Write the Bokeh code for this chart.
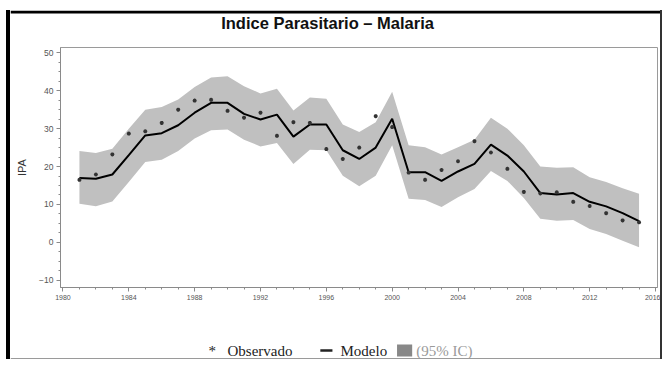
from bokeh.plotting import figure
from bokeh.layouts import column
from bokeh.models import Range1d, FixedTicker
from bokeh.core.properties import value
from bokeh.embed import file_html
from bokeh.resources import INLINE

# Annual malaria parasite index (IPA), observed values, model fit and 95% interval
years = list(range(1981, 2016))
observado = [16.5, 17.9, 23.2, 28.7, 29.3, 31.5, 35.0, 37.4, 37.6, 34.7,
             32.9, 34.2, 28.1, 31.7, 31.5, 24.6, 22.0, 25.0, 33.3, 30.4,
             18.4, 16.5, 19.1, 21.4, 26.7, 23.7, 19.4, 13.3, 12.9, 13.2,
             10.7, 9.6, 7.7, 5.8, 5.3]
modelo = [17.0, 16.8, 17.9, 23.0, 28.2, 28.8, 30.9, 34.2, 36.8, 36.8,
          33.9, 32.4, 33.7, 27.9, 31.1, 31.1, 24.3, 22.0, 25.0, 32.6,
          18.5, 18.5, 16.2, 18.7, 20.7, 25.8, 22.9, 18.7, 13.0, 12.6,
          13.0, 10.7, 9.5, 7.7, 5.6]
ic_sup = [24.1, 23.6, 24.7, 30.0, 35.0, 35.7, 37.7, 41.0, 43.5, 43.8,
          41.2, 39.3, 40.5, 34.8, 38.2, 37.9, 31.1, 29.1, 31.7, 39.7,
          25.6, 25.1, 23.2, 25.1, 27.1, 32.9, 30.0, 25.6, 20.0, 19.7,
          19.8, 17.2, 15.9, 14.3, 12.8]
ic_inf = [10.2, 9.5, 10.8, 15.9, 21.2, 21.8, 24.1, 27.4, 29.6, 29.8,
          27.1, 25.3, 26.2, 20.7, 24.4, 24.3, 17.6, 14.8, 17.6, 25.6,
          11.5, 11.2, 9.3, 11.9, 14.1, 18.8, 16.2, 11.7, 6.2, 5.7,
          5.9, 3.5, 2.2, 0.4, -1.3]

x_ticks = list(range(1980, 2017, 4))
y_ticks = list(range(-10, 51, 10))

title_text = "Indice  Parasitario  \u2013  Malaria"
legend_labels = ["*", "Observado", "Modelo", "(95% IC)"]

# page geometry: a framed box whose inner area spans page x 10..660
W = 656                      # outer width incl. 4px left and 2px right border
INNER_W = W - 6
MAIN_LEFT, MAIN_RIGHT = 50, 9   # main frame margins inside the box
SIDES = {"border-left": "4px solid #000000", "border-right": "2px solid #333333"}


def strip(height):
    """A bare canvas for a text row; x is inner-box pixels, y grows downwards."""
    f = figure(width=W, height=height, output_backend="svg", toolbar_location=None,
               y_range=Range1d(height, 0), min_border=0,
               x_axis_type=None, y_axis_type=None,
               background_fill_color="white", border_fill_color="white")
    if "frame_align" in f.properties():
        f.frame_align = False
        f.x_range = Range1d(0, INNER_W)
    else:
        # frames in a column share the main chart's left/right edges
        f.x_range = Range1d(MAIN_LEFT, INNER_W - MAIN_RIGHT)
    f.grid.visible = False
    f.outline_line_color = None
    f.styles = dict(SIDES)
    return f


# ---- title row (page y 10..40) -------------------------------------------
top = strip(30)
top.quad(left=[0], right=[INNER_W], top=[0], bottom=[3], fill_color="#000000",
         line_color=None)
top.text(x=[321], y=[12], text=[title_text], text_font=value("Liberation Sans"),
         text_font_style="bold", text_font_size="16.5px", text_align="center",
         text_baseline="alphabetic", text_color="#111111")

# ---- main chart (page y 40..320) -----------------------------------------
p = figure(width=W, height=280, output_backend="svg", toolbar_location=None,
           x_range=Range1d(1979.85, 2016.12), y_range=Range1d(-11.9, 51.4),
           min_border_left=MAIN_LEFT, min_border_right=MAIN_RIGHT,
           min_border_top=7, min_border_bottom=33,
           background_fill_color="white", border_fill_color="white")
p.styles = dict(SIDES)

p.xgrid.visible = False
p.ygrid.visible = False
p.outline_line_color = "#9a9a9a"
p.outline_line_width = 1

# confidence band, fitted line, observations
p.varea(x=years, y1=ic_inf, y2=ic_sup, fill_color="#c0c0c0", fill_alpha=1.0)
p.line(years, modelo, line_color="black", line_width=2)
p.scatter(years, observado, marker="asterisk", size=4, line_color="#333333",
          line_width=1.2)

for ax in (p.xaxis[0], p.yaxis[0]):
    ax.axis_line_color = "#8a8a8a"
    ax.major_tick_line_color = "#8a8a8a"
    ax.minor_tick_line_color = "#8a8a8a"
    ax.major_tick_in = 0
    ax.major_tick_out = 4
    ax.minor_tick_in = 0
    ax.minor_tick_out = 2
    ax.major_label_text_color = "#555555"
    ax.major_label_text_font = "Liberation Sans"

p.xaxis.ticker = FixedTicker(ticks=x_ticks, minor_ticks=list(range(1980, 2017)))
p.yaxis.ticker = FixedTicker(ticks=y_ticks,
                             minor_ticks=[v / 2 for v in range(-20, 101, 5)])
p.xaxis.major_label_text_font_size = "7px"
p.yaxis.major_label_text_font_size = "8.5px"
p.xaxis.major_label_standoff = 3
p.yaxis.major_label_standoff = 3

p.yaxis.axis_label = "IPA"
p.yaxis.axis_label_text_font = "Liberation Sans"
p.yaxis.axis_label_text_font_style = "normal"
p.yaxis.axis_label_text_font_size = "11px"
p.yaxis.axis_label_text_color = "#333333"
p.yaxis.axis_label_standoff = 8

# ---- legend row (page y 320..359) ----------------------------------------
leg = strip(39)
serif = value("Liberation Serif")
text_y = 30
leg.text(x=[200], y=[text_y], text=[legend_labels[0]], text_font=serif,
         text_font_size="15px", text_align="center", text_baseline="alphabetic",
         text_color="#222222")
leg.text(x=[215, 327], y=[text_y, text_y], text=legend_labels[1:3],
         text_font=serif, text_font_size="15px", text_baseline="alphabetic",
         text_color="#222222")
leg.segment(x0=[307], y0=[30], x1=[319], y1=[30], line_color="#222222",
            line_width=2.5)
leg.quad(left=[383], right=[398], top=[24], bottom=[36], fill_color="#888888",
         line_color=None)
leg.text(x=[402], y=[text_y], text=[legend_labels[3]], text_font=serif,
         text_font_size="15px", text_baseline="alphabetic", text_color="#9a9a9a")
leg.quad(left=[0], right=[INNER_W], top=[37.5], bottom=[39], fill_color="#9a9a9a",
         line_color=None)

page = column(top, p, leg, spacing=0, margin=(10, 0, 0, 6))

open("out.html", "w").write(file_html(page, INLINE))
